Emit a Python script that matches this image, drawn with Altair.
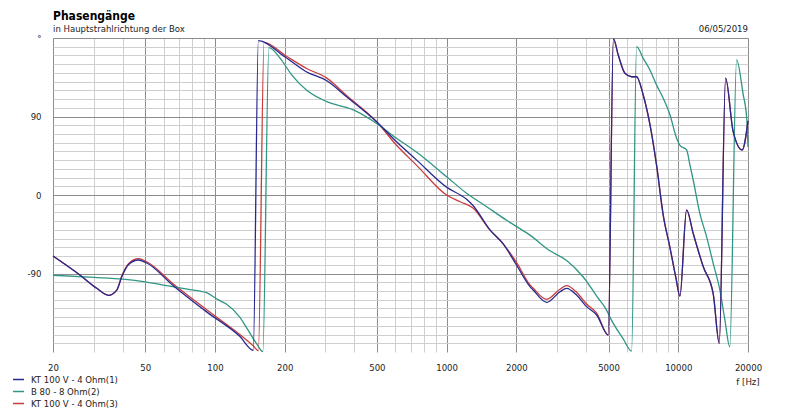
import altair as alt
import pandas as pd

FONT = "DejaVu Sans Condensed, Liberation Sans, sans-serif"

chart_title = "Phasengänge"
chart_subtitle = "in Hauptstrahlrichtung der Box"
chart_date = "06/05/2019"
x_unit = "f [Hz]"

series_names = ["KT 100 V - 4 Ohm(1)", "B 80 - 8 Ohm(2)", "KT 100 V - 4 Ohm(3)"]
series_colors = ["#28288e", "#2f9684", "#c83c3c"]

kt1_freq = [20, 26.2, 30.9, 34.7, 37.7, 39.6, 42.3, 46.7, 50.8, 66.1, 92.1, 128, 146.4, 154, 200, 249, 304, 370, 499, 608,
            743, 1000, 1220, 1300, 1538, 1755, 2000, 2290, 2366, 2704, 3085, 3297, 3640, 4019, 4444, 4987, 5250, 5507, 5887, 6289,
            6609, 7058, 7546, 8063, 8611, 9204, 9770, 10165, 10864, 11600, 12810, 14150, 15030, 16010, 17260, 18880, 20000]
kt1_phase = [-70, -92, -107, -115, -109, -94, -80, -74.5, -78, -104, -134, -162, -178, 177, 158.5, 141, 131, 112.7, 84, 61,
             40, 9, -5, -12, -40, -56, -80, -105, -109, -123, -111, -107, -114.7, -128, -137.6, -160.5, 179, 160.5, 139.5, 135.6,
             135.6, 114.7, 81, 34, -23, -60, -95, -116, -17, -44, -82, -113, -170, 134, 72.6, 51.6, 85]

b80_freq = [20, 30, 40, 50, 62, 76, 92, 103, 112, 128, 139, 151, 161, 171, 191, 214, 249, 304, 396, 499,
            608, 743, 1000, 1220, 1489, 1816, 2000, 2290, 2793, 3297, 3889, 4500, 4904, 5068, 5787, 6289, 6609, 7058, 7546, 8063,
            8611, 9204, 9838, 10165, 10864, 11230, 11600, 12390, 13250, 14150, 15130, 15890, 16690, 17860, 19070, 19720, 20000]
b80_phase = [-92, -94.5, -96.5, -99.5, -104, -108, -112, -120, -125, -140, -155, -170, -179.5, 169, 157, 138, 120, 107, 97.5, 82,
             65, 49, 21, 2, -13.4, -29, -36, -46, -64, -75, -94, -118, -132, -140, -165, -179, 170, 156.7, 143.3, 126,
             111, 92, 65, 57, 51.6, 34.4, 17.2, -21, -47.8, -78.3, -109, -143, -174, 155, 115, 90, 55]

kt3_freq = [20, 26.2, 30.9, 34.7, 37.7, 39.6, 42.3, 46.7, 50.8, 66.1, 92.1, 128, 146.4, 154, 163, 200, 249, 304, 370, 499,
            608, 743, 1000, 1150, 1300, 1538, 1755, 2000, 2290, 2366, 2704, 3085, 3297, 3640, 4019, 4444,
            4987, 5250, 5507, 5887, 6289, 6609, 7058, 7546, 8063, 8611, 9204, 9770, 10165, 10864, 11600, 12810, 14150, 15030,
            16010, 17260, 18880, 20000]
kt3_phase = [-70, -92, -107, -115, -109, -93, -79, -73, -76.5, -102, -131.5, -160, -173, -178.5, 175, 160.5, 145, 134, 114, 84,
             57, 34, 0, -8, -15, -40, -56, -77, -103, -107, -119.6, -108, -104, -111.5, -125, -135.5,
             -160.5, 179, 160.5, 139.5, 135.6, 135.6, 114.7, 81, 34, -23, -60, -95, -116, -17, -44, -82, -113, -170,
             134, 72.6, 51.6, 85]

grid_freqs = [20, 30, 40, 50, 60, 70, 80, 90, 100, 200, 300, 400, 500, 600, 700, 800, 900,
              1000, 2000, 3000, 4000, 5000, 6000, 7000, 8000, 9000, 10000, 20000]
label_freqs = [20, 50, 100, 200, 500, 1000, 2000, 5000, 10000, 20000]
grid_phases = [-170, -160, -150, -140, -130, -120, -110, -100, -90, -80, -70, -60, -50, -40, -30, -20, -10, 0,
               10, 20, 30, 40, 50, 60, 70, 80, 90, 100, 110, 120, 130, 140, 150, 160, 170, 180]

rows = []
for name, fs, ps in [(series_names[0], kt1_freq, kt1_phase),
                     (series_names[1], b80_freq, b80_phase),
                     (series_names[2], kt3_freq, kt3_phase)]:
    for i, (f, p) in enumerate(zip(fs, ps)):
        rows.append({"series": name, "f": f, "phase": p, "idx": i})
df = pd.DataFrame(rows)

label_list = ",".join(str(v) for v in label_freqs)
MAJOR = "#8c8c8c"
MINOR = "#cfcfcf"

x_enc = alt.X("f:Q",
              scale=alt.Scale(type="log", domain=[20, 20000], nice=False),
              axis=alt.Axis(values=grid_freqs, title=None, domain=False, ticks=False,
                            labelExpr=f"indexof([{label_list}], datum.value) >= 0 ? '' + datum.value : ''",
                            labelFont=FONT, labelFontSize=9.5, labelColor="#222", labelPadding=10,
                            labelFlush=False, labelOverlap=False,
                            gridColor={"condition": {"test": f"indexof([{label_list}], datum.value) >= 0", "value": MAJOR},
                                       "value": MINOR},
                            gridWidth=1))
y_enc = alt.Y("phase:Q",
              scale=alt.Scale(domain=[-180, 180], nice=False),
              axis=alt.Axis(values=grid_phases, title=None, domain=False, ticks=False,
                            labelExpr="datum.value == 180 ? '°' : (datum.value % 90 == 0 ? '' + datum.value : '')",
                            labelFont=FONT, labelFontSize=9.5, labelColor="#222", labelPadding=12,
                            labelOverlap=False,
                            gridColor={"condition": {"test": "datum.value % 90 == 0", "value": MAJOR},
                                       "value": MINOR},
                            gridWidth=1))
color_enc = alt.Color("series:N",
                      scale=alt.Scale(domain=series_names, range=series_colors),
                      legend=alt.Legend(title=None, orient="none", legendX=-41, legendY=335,
                                        symbolType="stroke", symbolSize=121, symbolStrokeWidth=1.5,
                                        labelFont=FONT, labelFontSize=9.5, labelColor="#222",
                                        rowPadding=1, labelOffset=6, labelLimit=300))

base = alt.Chart(df)
layers = []
for name in [series_names[2], series_names[1], series_names[0]]:
    layers.append(
        base.transform_filter(alt.datum.series == name)
        .mark_line(strokeWidth=1.3, interpolate="monotone")
        .encode(x=x_enc, y=y_enc, color=color_enc, order="idx:Q")
    )

title_t = alt.Chart(pd.DataFrame({"t": [chart_title]})).mark_text(
    align="left", baseline="middle", font=FONT, fontSize=12, fontWeight="bold", color="#000"
).encode(text="t:N", x=alt.value(0), y=alt.value(-22))
sub_t = alt.Chart(pd.DataFrame({"t": [chart_subtitle]})).mark_text(
    align="left", baseline="middle", font=FONT, fontSize=9.5, color="#222"
).encode(text="t:N", x=alt.value(0), y=alt.value(-9))
date_t = alt.Chart(pd.DataFrame({"t": [chart_date]})).mark_text(
    align="right", baseline="middle", font=FONT, fontSize=9.5, color="#222"
).encode(text="t:N", x=alt.value(695), y=alt.value(-9))
unit_t = alt.Chart(pd.DataFrame({"t": [x_unit]})).mark_text(
    align="center", baseline="middle", font=FONT, fontSize=9.5, color="#222"
).encode(text="t:N", x=alt.value(695), y=alt.value(344))

chart = alt.layer(*layers, title_t, sub_t, date_t, unit_t).properties(
    width=695, height=314,
    autosize=alt.AutoSizeParams(type="none"),
    padding={"left": 45, "top": 30, "right": 40, "bottom": 57},
    background="white",
).configure_view(stroke="transparent")

chart.save("out.html", embed_options={"renderer": "svg", "actions": False})
